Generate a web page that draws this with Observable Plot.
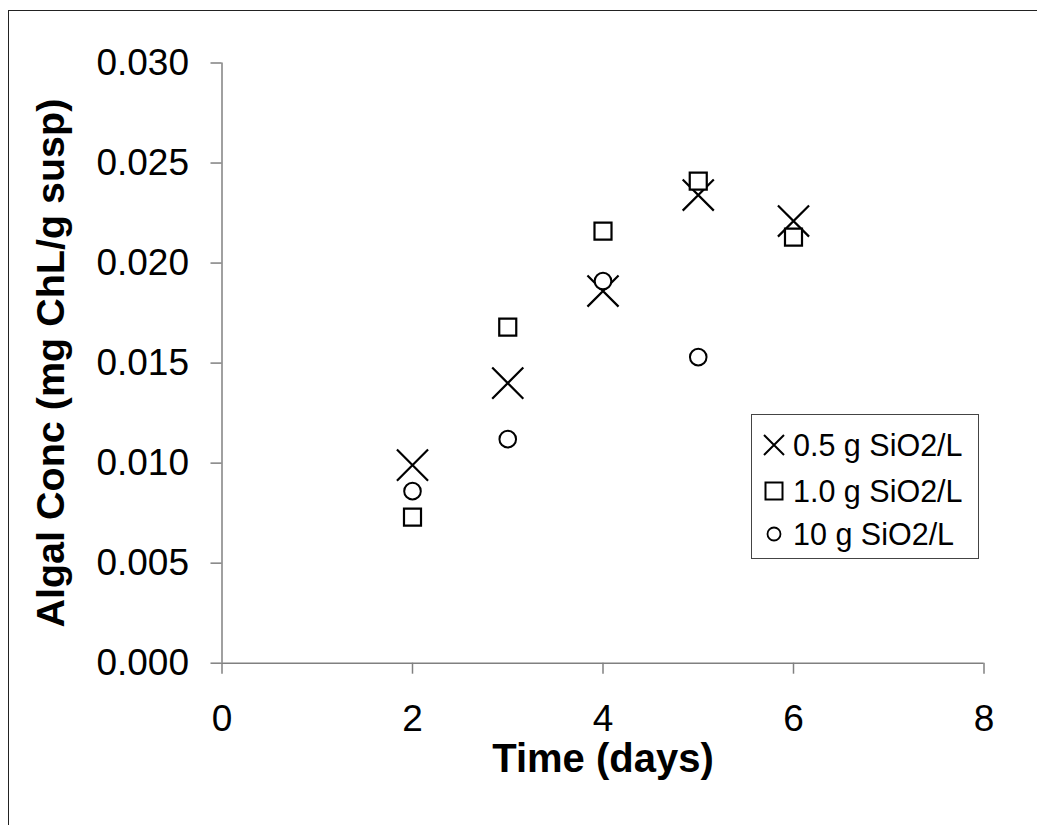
<!DOCTYPE html>
<html>
<head>
<meta charset="utf-8">
<script src="https://cdn.jsdelivr.net/npm/d3@7"></script>
<script src="https://cdn.jsdelivr.net/npm/@observablehq/plot@0.6"></script>
<style>
  html, body { margin: 0; padding: 0; background: white; }
  #wrap { position: relative; width: 1037px; height: 825px; overflow: hidden; font-family: "Liberation Sans", Arial, sans-serif; }
  #wrap svg.plot { position: absolute; left: 0; top: 0; }
  #frame { position: absolute; left: 8px; top: 10px; width: 1100px; height: 900px; border-left: 1.5px solid #222; border-top: 1.5px solid #222; }
  #legend { position: absolute; left: 751px; top: 414px; width: 226px; height: 143px; border: 1.5px solid #444; background: white; }
  .row { position: absolute; left: 0; height: 36px; display: flex; align-items: center; font-size: 30.5px; color: black; white-space: nowrap; }
  .row svg { margin-left: 10px; margin-right: 7px; }
</style>
</head>
<body>
<div id="wrap"><div id="frame"></div></div>
<script>
// ---- data ----
const days = [2, 3, 4, 5, 6];
const conc05 = [0.0099, 0.0140, 0.0186, 0.0234, 0.0221];   // 0.5 g SiO2/L
const conc10 = [0.0073, 0.0168, 0.0216, 0.0241, 0.0213];   // 1.0 g SiO2/L
const days10g = [2, 3, 4, 5];
const conc10g = [0.0086, 0.0112, 0.0191, 0.0153];          // 10 g SiO2/L
const seriesNames = ["0.5 g SiO2/L", "1.0 g SiO2/L", "10 g SiO2/L"];
const xTicks = [0, 2, 4, 6, 8];
const yTicks = [0, 0.005, 0.010, 0.015, 0.020, 0.025, 0.030];
const xTitle = "Time (days)";
const yTitle = "Algal Conc (mg ChL/g susp)";

const s05 = days.map((d, i) => ({day: d, conc: conc05[i]}));
const s10 = days.map((d, i) => ({day: d, conc: conc10[i]}));
const s10g = days10g.map((d, i) => ({day: d, conc: conc10g[i]}));

const chart = Plot.plot({
  width: 1037,
  height: 825,
  marginLeft: 221.5,
  marginRight: 53.5,
  marginTop: 62.5,
  marginBottom: 162.3,
  x: {domain: [0, 8]},
  y: {domain: [0, 0.03]},
  style: {fontFamily: "'Liberation Sans', Arial, sans-serif", background: "transparent", color: "black"},
  marks: [
    Plot.axisX({ticks: xTicks, tickSize: 11, tickPadding: 31, stroke: "#808080", strokeWidth: 1.5, fill: "black", fontSize: 37, label: null, tickFormat: d3.format("d")}),
    Plot.axisY({ticks: yTicks, tickSize: 11, tickPadding: 22, stroke: "#808080", strokeWidth: 1.5, fill: "black", fontSize: 37, label: null, tickFormat: d3.format(".3f")}),
    Plot.ruleX([0], {stroke: "#808080", strokeWidth: 1.5}),
    Plot.ruleY([0], {stroke: "#808080", strokeWidth: 1.5}),
    Plot.dot(s05, {x: "day", y: "conc", symbol: "times", r: 14.2, stroke: "black", strokeWidth: 2.2}),
    Plot.dot(s10, {x: "day", y: "conc", symbol: "square", r: 9.6, stroke: "black", fill: "white", strokeWidth: 2.2}),
    Plot.dot(s10g, {x: "day", y: "conc", symbol: "circle", r: 8.3, stroke: "black", fill: "white", strokeWidth: 2}),
    Plot.text([xTitle], {frameAnchor: "bottom", dy: 96, lineAnchor: "middle", textAnchor: "middle", fontSize: 40, fontWeight: "bold", fill: "black"}),
    Plot.text([yTitle], {frameAnchor: "left", dx: -171, rotate: -90, lineAnchor: "middle", textAnchor: "middle", fontSize: 39.5, fontWeight: "bold", fill: "black"})
  ]
});
chart.classList.add("plot");
const wrap = document.getElementById("wrap");
wrap.insertBefore(chart, wrap.firstChild);

// legend
const legend = document.createElement("div");
legend.id = "legend";
const rowTops = [12, 58, 101];
const icons = [
  '<svg width="24" height="24" viewBox="-12 -12 24 24"><path d="M-10,-10L10,10M10,-10L-10,10" stroke="black" stroke-width="2" fill="none"/></svg>',
  '<svg width="24" height="24" viewBox="-12 -12 24 24"><rect x="-8.5" y="-8.5" width="17" height="17" stroke="black" stroke-width="2" fill="white"/></svg>',
  '<svg width="24" height="24" viewBox="-12 -12 24 24"><circle r="6.5" stroke="black" stroke-width="1.8" fill="white"/></svg>'
];
seriesNames.forEach((name, i) => {
  const row = document.createElement("div");
  row.className = "row";
  row.style.top = rowTops[i] + "px";
  row.innerHTML = icons[i] + "<span>" + name + "</span>";
  legend.appendChild(row);
});
wrap.appendChild(legend);
</script>
</body>
</html>
